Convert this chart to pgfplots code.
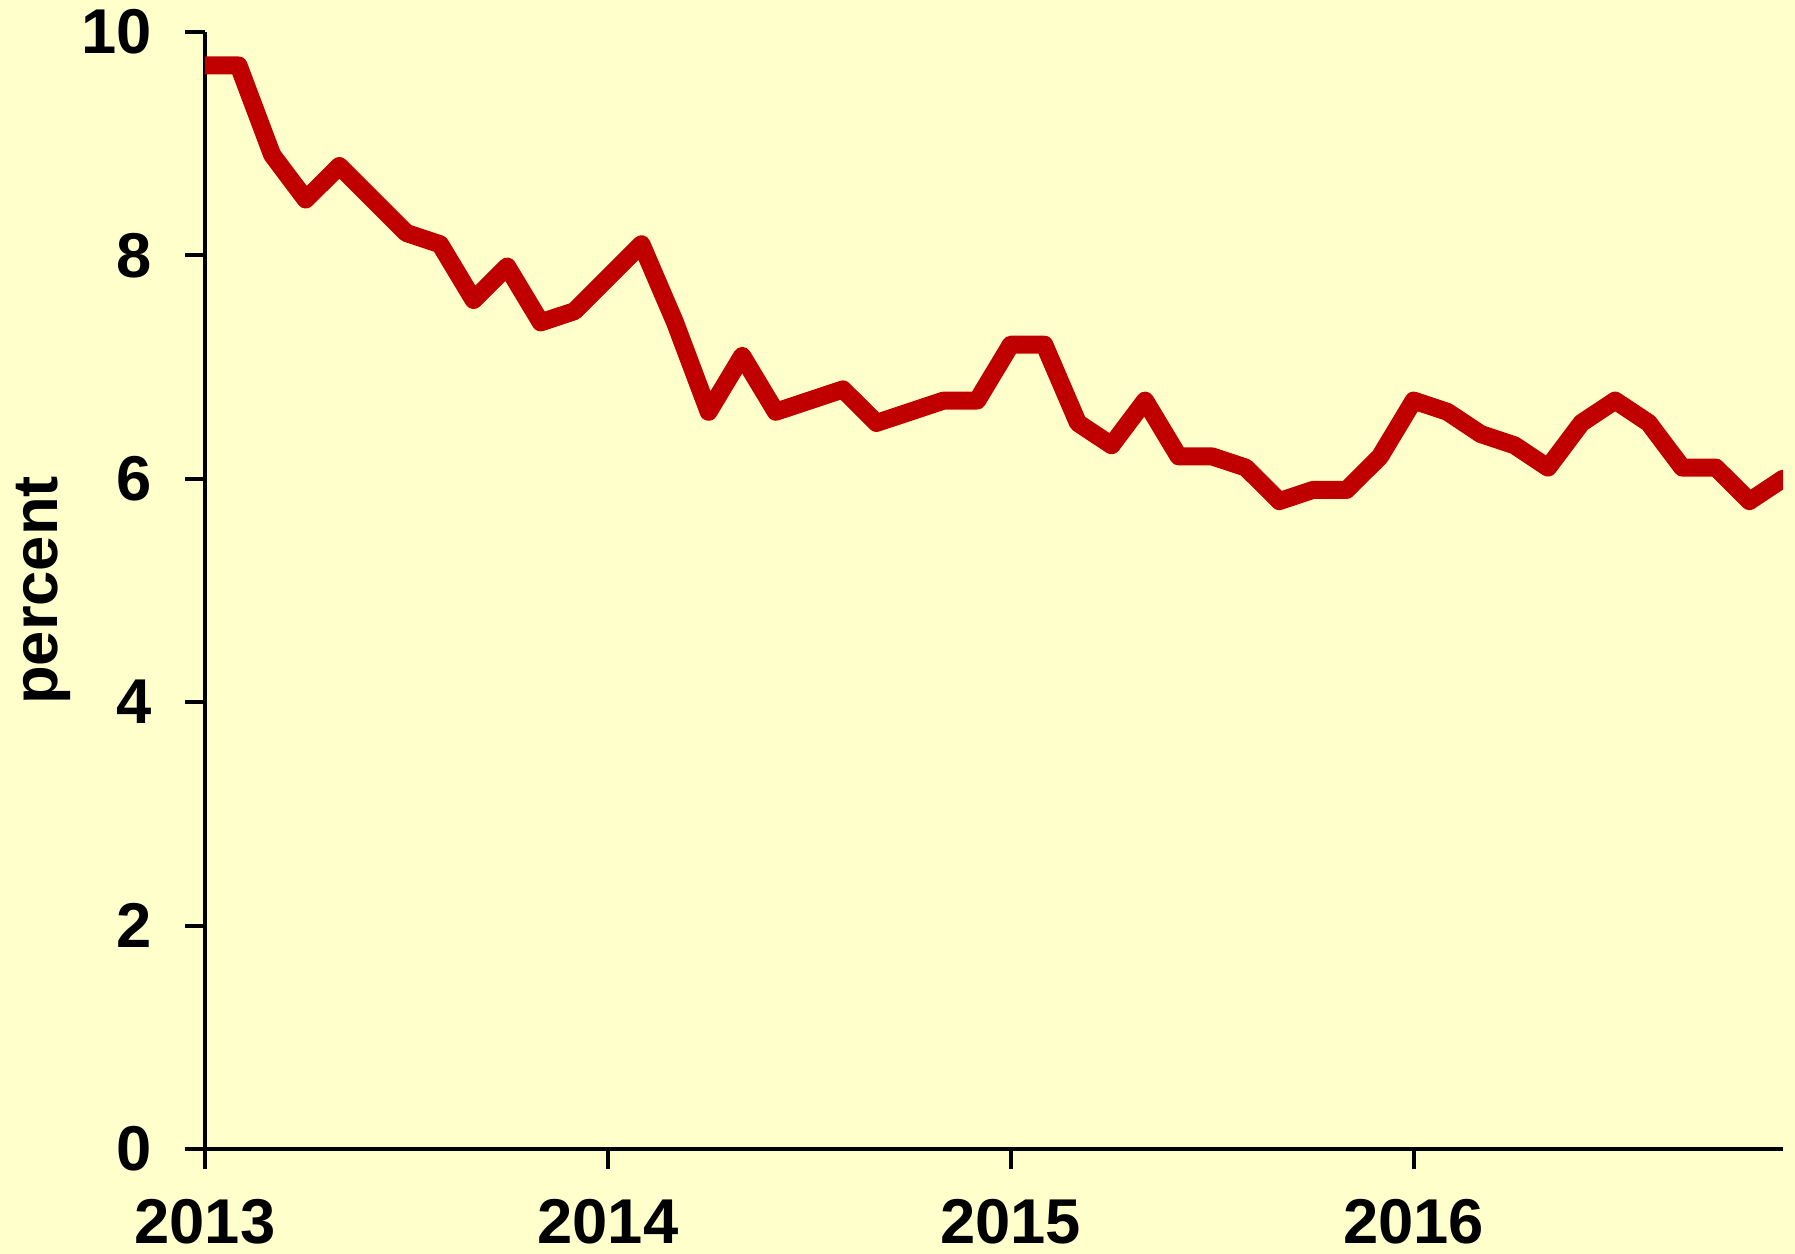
\documentclass[border=0pt]{standalone}
\usepackage{fontspec}
\setmainfont{Liberation Sans}
\usepackage{pgfplots}
\pgfplotsset{compat=1.18}
\definecolor{bg}{HTML}{FFFFCC}
\definecolor{linered}{HTML}{C00000}
\begin{document}
\begin{tikzpicture}
\fill[bg] (-61.5pt,-31.5pt) rectangle (477pt,344.7pt);
\begin{axis}[
  scale only axis, width=473.4pt, height=335.1pt,
  at={(0,0)}, anchor=south west,
  xmin=0, xmax=47, ymin=0, ymax=10,
  axis x line=bottom, axis y line=left,
  axis line style={-, line width=1.2pt, black},
  tick align=outside, major tick length=6pt,
  tick style={line width=1.2pt, black},
  xtick={0,12,24,36}, xticklabels={2013,2014,2015,2016},
  ytick={0,2,4,6,8,10},
  /pgf/number format/assume math mode=true,
  ticklabel style={font=\fontsize{19}{22}\selectfont\bfseries},
  xticklabel style={yshift=-5.5pt},
  yticklabel style={xshift=-6.5pt},
  ylabel={percent},
  every axis y label/.style={at={(axis description cs:0,0.5)}, xshift=-48.5pt, rotate=90, anchor=center, font=\fontsize{19}{22}\selectfont\bfseries},
]
\addplot[linered, line width=5.4pt, line join=round, line cap=round] coordinates {
(0,9.7) (1,9.7) (2,8.9) (3,8.5) (4,8.8) (5,8.5) (6,8.2) (7,8.1) (8,7.6) (9,7.9)
(10,7.4) (11,7.5) (12,7.8) (13,8.1) (14,7.4) (15,6.6) (16,7.1) (17,6.6) (18,6.7) (19,6.8)
(20,6.5) (21,6.6) (22,6.7) (23,6.7) (24,7.2) (25,7.2) (26,6.5) (27,6.3) (28,6.7) (29,6.2)
(30,6.2) (31,6.1) (32,5.8) (33,5.9) (34,5.9) (35,6.2) (36,6.7) (37,6.6) (38,6.4) (39,6.3)
(40,6.1) (41,6.5) (42,6.7) (43,6.5) (44,6.1) (45,6.1) (46,5.8) (47,6.0)
};
\end{axis}
\pgfresetboundingbox
\useasboundingbox (-61.5pt,-31.5pt) rectangle (477pt,344.7pt);
\end{tikzpicture}
\end{document}
